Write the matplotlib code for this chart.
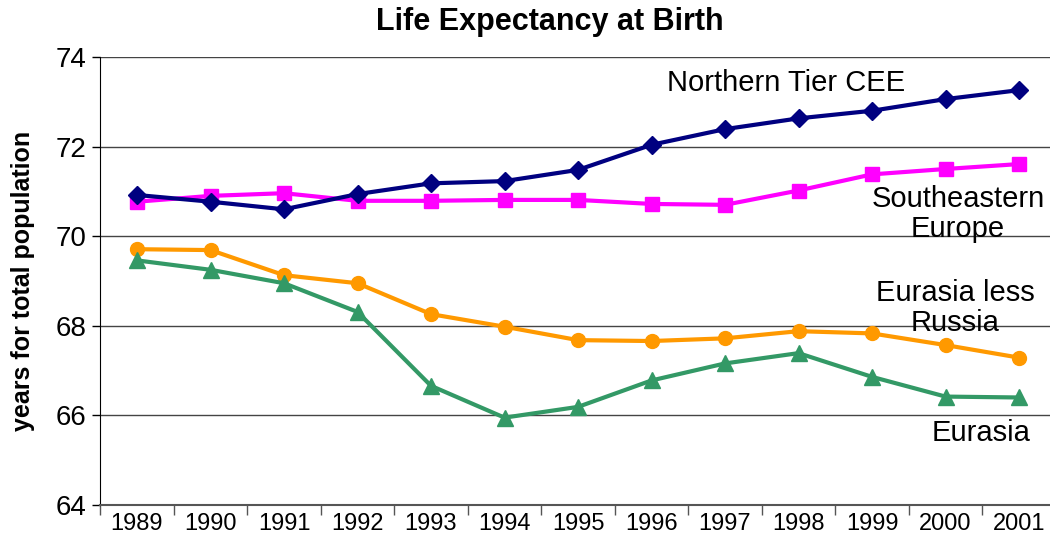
import matplotlib
matplotlib.use("Agg")
import matplotlib.pyplot as plt

years = ["1989", "1990", "1991", "1992", "1993", "1994", "1995",
         "1996", "1997", "1998", "1999", "2000", "2001"]
northern_tier = [70.92, 70.77, 70.60, 70.94, 71.18, 71.23, 71.48,
                 72.04, 72.39, 72.63, 72.80, 73.06, 73.26]
southeastern = [70.77, 70.90, 70.96, 70.79, 70.79, 70.81, 70.81,
                70.72, 70.70, 71.02, 71.38, 71.50, 71.61]
eurasia_less_russia = [69.71, 69.69, 69.13, 68.95, 68.26, 67.98, 67.68,
                       67.66, 67.72, 67.88, 67.83, 67.57, 67.29]
eurasia = [69.46, 69.25, 68.95, 68.31, 66.66, 65.95, 66.19,
           66.78, 67.16, 67.39, 66.86, 66.42, 66.40]

plt.rcParams['font.family'] = ['Liberation Sans', 'DejaVu Sans']

W, H = 1050, 539
fig = plt.figure(figsize=(W / 100, H / 100), dpi=100)
ax = fig.add_axes([100.25 / W, (H - 505) / H, (1055.75 - 100.25) / W, (505 - 57) / H])

x = list(range(len(years)))
ax.plot(x, northern_tier, color='#000080', lw=3, marker='D', ms=9, zorder=5)
ax.plot(x, southeastern, color='#FF00FF', lw=3, marker='s', ms=10, zorder=4)
ax.plot(x, eurasia_less_russia, color='#FF9900', lw=3, marker='o', ms=10, zorder=3)
ax.plot(x, eurasia, color='#339966', lw=3, marker='^', ms=11, zorder=3)

ax.set_xlim(-0.5, len(years) - 0.5)
ax.set_ylim(64, 74)
ax.set_yticks([64, 66, 68, 70, 72, 74])
ax.yaxis.grid(True, color='#444444', lw=1)
ax.set_axisbelow(True)
ax.tick_params(axis='y', labelsize=20, length=6, width=1, pad=4, direction='out')

ax.set_xticks(x)
ax.set_xticklabels(years, fontsize=17)
ax.set_xticks([i - 0.5 for i in range(len(years) + 1)], minor=True)
ax.tick_params(axis='x', which='major', length=0, pad=6)
ax.tick_params(axis='x', which='minor', length=7, width=1, direction='out', color='#555555')

for s in ['top', 'right']:
    ax.spines[s].set_visible(False)
ax.spines['left'].set_color('black')
ax.spines['bottom'].set_color('#555555')
ax.spines['bottom'].set_linewidth(1.5)

ax.set_ylabel('years for total population', fontsize=18, fontweight='bold', labelpad=15)

fig.text(550 / W, 1 - 22 / H, 'Life Expectancy at Birth', ha='center', va='center',
         fontsize=22, fontweight='bold')

ax.text(8.83, 73.42, 'Northern Tier CEE', ha='center', va='center', fontsize=21)
ax.text(11.17, 70.50, 'Southeastern\nEurope', ha='center', va='center', fontsize=21, linespacing=1.08)
ax.text(11.13, 68.40, 'Eurasia less\nRussia', ha='center', va='center', fontsize=21, linespacing=1.08)
ax.text(11.48, 65.61, 'Eurasia', ha='center', va='center', fontsize=21)

fig.savefig('out.png', dpi=100)
